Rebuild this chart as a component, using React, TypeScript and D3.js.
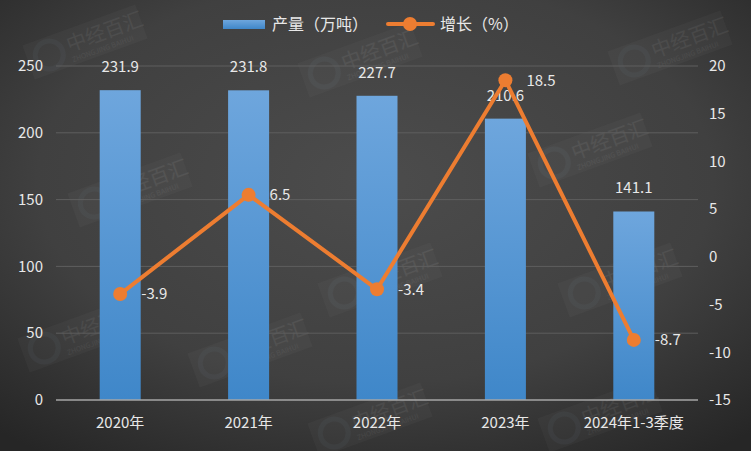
import React from "react";
import * as d3 from "d3";

const categories = ["2020年", "2021年", "2022年", "2023年", "2024年1-3季度"];
const output = [231.9, 231.8, 227.7, 210.6, 141.1];
const growth = [-3.9, 6.5, -3.4, 18.5, -8.7];
const leftTicks = [0, 50, 100, 150, 200, 250];
const rightTicks = [-15, -10, -5, 0, 5, 10, 15, 20];
const watermarks = [
  [85, 42], [130, 190], [80, 335], [360, 60], [380, 280], [590, 150], [620, 280], [370, 420], [600, 415], [670, 48], [250, 350],
];

const W = 751, H = 451;
const L = 56, R = 698, T = 66, B = 400;
const font = "'Microsoft YaHei', 'Noto Sans CJK SC', 'DejaVu Sans', sans-serif";

export default function App() {
  const x = d3.scaleBand().domain(categories).range([L, R]).paddingInner(0).paddingOuter(0);
  const yL = d3.scaleLinear().domain([0, 250]).range([B, T]);
  const yR = d3.scaleLinear().domain([-15, 20]).range([B, T]);
  const bw = 41;
  const cx = (c: string) => (x(c) as number) + x.bandwidth() / 2;
  const line = d3.line<number>().x((_, i) => cx(categories[i])).y((d) => yR(d));
  const txt = "#e8e8e8";
  return (
    <svg width={W} height={H} style={{ position: "absolute", left: 0, top: 0 }} fontFamily={font}>
      <defs>
        <radialGradient id="bg" cx="50%" cy="40%" r="75%">
          <stop offset="0%" stopColor="#4c4c4c" />
          <stop offset="60%" stopColor="#404040" />
          <stop offset="100%" stopColor="#262626" />
        </radialGradient>
        <linearGradient id="bar" x1="0" y1="0" x2="0" y2="1">
          <stop offset="0%" stopColor="#6ea6dd" />
          <stop offset="100%" stopColor="#3f87c9" />
        </linearGradient>
      </defs>
      <rect x={0} y={0} width={W} height={H} fill="url(#bg)" />
      {watermarks.map(([wx, wy], i) => (
        <g key={i} transform={`translate(${wx},${wy}) rotate(-20)`} opacity={0.08}>
          <circle cx={-38} cy={0} r={14} fill="none" stroke="#9fc4e8" strokeWidth={5} />
          <rect x={-60} y={-18} width={120} height={36} fill="#bbbbbb" opacity={0.5} />
          <text x={-18} y={4} fontSize={20} fill="#ffffff">中经百汇</text>
          <text x={-18} y={15} fontSize={7} fill="#ffffff">ZHONGJING BAIHUI</text>
        </g>
      ))}
      {leftTicks.map((t) => (
        <g key={t}>
          {t !== 0 && <line x1={L} x2={R} y1={yL(t)} y2={yL(t)} stroke="#5e5e5e" strokeWidth={1} />}
          <text x={43} y={yL(t)} dy="0.35em" textAnchor="end" fontSize={15} fill={txt}>{t}</text>
        </g>
      ))}
      {rightTicks.map((t) => (
        <text key={t} x={709} y={yR(t)} dy="0.35em" textAnchor="start" fontSize={15} fill={txt}>{t}</text>
      ))}
      {categories.map((c, i) => (
        <g key={c}>
          <rect x={cx(c) - bw / 2} y={yL(output[i])} width={bw} height={B - yL(output[i])} fill="url(#bar)" />
          <text x={cx(c)} y={yL(output[i]) - 18} textAnchor="middle" fontSize={15} fill={txt}>{output[i]}</text>
          <text x={cx(c)} y={428} textAnchor="middle" fontSize={15} fill={txt}>{c}</text>
        </g>
      ))}
      <line x1={L} x2={R} y1={B} y2={B} stroke="#a6a6a6" strokeWidth={1.5} />
      <path d={line(growth) || ""} fill="none" stroke="#ed7d31" strokeWidth={4} strokeLinejoin="round" />
      {growth.map((g, i) => (
        <g key={i}>
          <circle cx={cx(categories[i])} cy={yR(g)} r={7} fill="#ed7d31" />
          <text x={cx(categories[i]) + 21} y={yR(g)} dy="0.35em" fontSize={15} fill={txt}>{g}</text>
        </g>
      ))}
      <g>
        <rect x={223} y={20} width={42} height={9} fill="url(#bar)" />
        <text x={272} y={24} dy="0.35em" fontSize={16} fill={txt}>产量（万吨）</text>
        <line x1={388} x2={433} y1={24} y2={24} stroke="#ed7d31" strokeWidth={4} strokeLinecap="round" />
        <circle cx={410} cy={24} r={7} fill="#ed7d31" />
        <text x={440} y={24} dy="0.35em" fontSize={16} fill={txt}>增长（%）</text>
      </g>
    </svg>
  );
}
